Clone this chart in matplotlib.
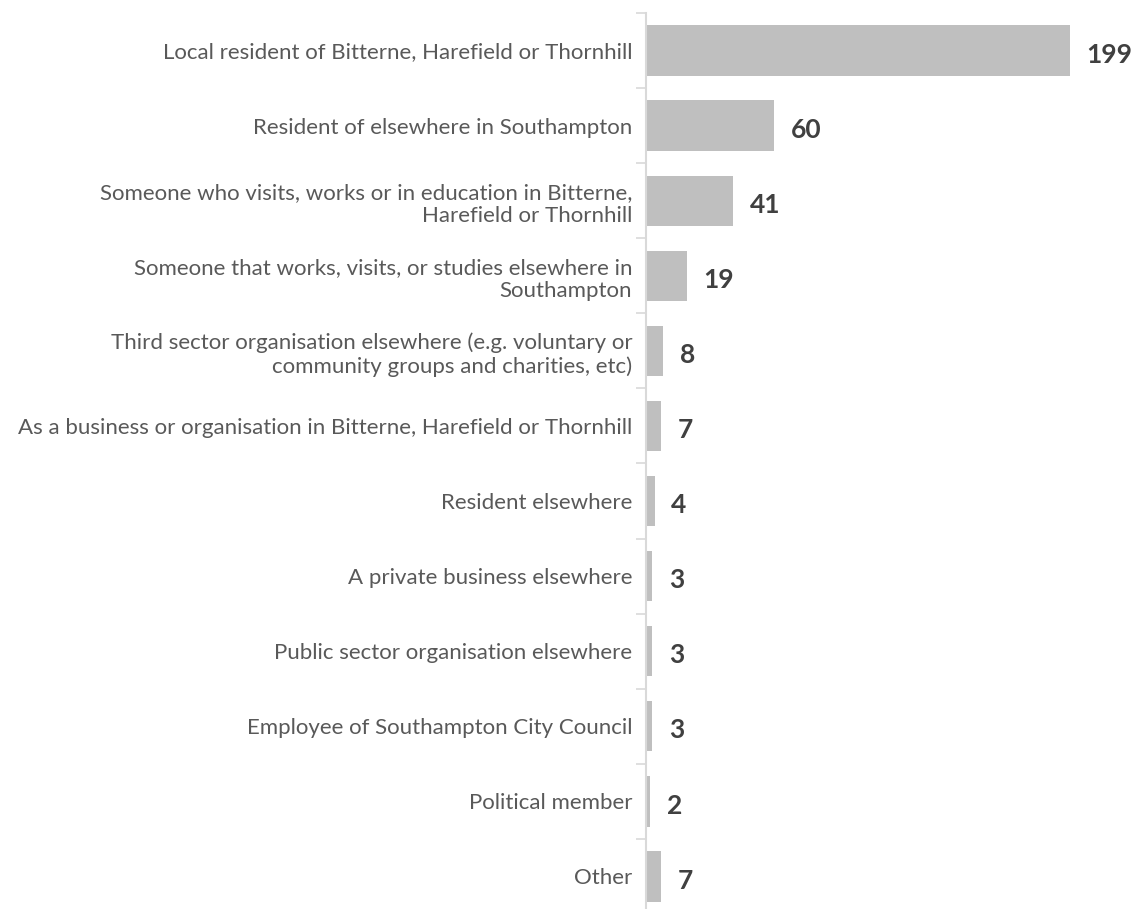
import matplotlib
matplotlib.use("Agg")
import matplotlib.pyplot as plt
from matplotlib.ticker import FixedLocator

plt.rcParams["font.family"] = ["Lato", "DejaVu Sans"]

categories = [
    "Local resident of Bitterne, Harefield or Thornhill",
    "Resident of elsewhere in Southampton",
    "Someone who visits, works or in education in Bitterne,\nHarefield or Thornhill",
    "Someone that works, visits, or studies elsewhere in\nSouthampton",
    "Third sector organisation elsewhere (e.g. voluntary or\ncommunity groups and charities, etc)",
    "As a business or organisation in Bitterne, Harefield or Thornhill",
    "Resident elsewhere",
    "A private business elsewhere",
    "Public sector organisation elsewhere",
    "Employee of Southampton City Council",
    "Political member",
    "Other",
]
counts = [199, 60, 41, 19, 8, 7, 4, 3, 3, 3, 2, 7]


def main():
    fig = plt.figure(figsize=(11.35, 9.09), dpi=100)
    # plot area runs a little past the bottom edge of the figure
    ax = fig.add_axes([0.5692, -0.0055, 0.4308, 0.9912])

    pos = list(range(len(categories)))
    ax.barh(pos, counts, height=0.67, color="#bfbfbf")

    for y, v in zip(pos, counts):
        ax.annotate(str(v), (v, y), xytext=(12, -3), textcoords="offset points",
                    ha="left", va="center", fontsize=19, fontweight="bold",
                    color="#404040")

    ax.set_xlim(0, 229.5)
    ax.set_ylim(len(categories) - 0.5, -0.5)

    ax.set_yticks(pos)
    ax.set_yticklabels(categories, fontsize=16, color="#595959", linespacing=1.2)
    ax.tick_params(axis="y", which="major", length=0, pad=10)
    ax.yaxis.set_minor_locator(FixedLocator([i - 0.5 for i in range(len(categories))]))
    ax.tick_params(axis="y", which="minor", length=7, width=1.2, color="#d9d9d9")
    ax.set_xticks([])

    for side in ["top", "right", "bottom"]:
        ax.spines[side].set_visible(False)
    ax.spines["left"].set_color("#d9d9d9")
    ax.spines["left"].set_linewidth(1.5)

    fig.savefig("out.png", dpi=100)


if __name__ == "__main__":
    main()
